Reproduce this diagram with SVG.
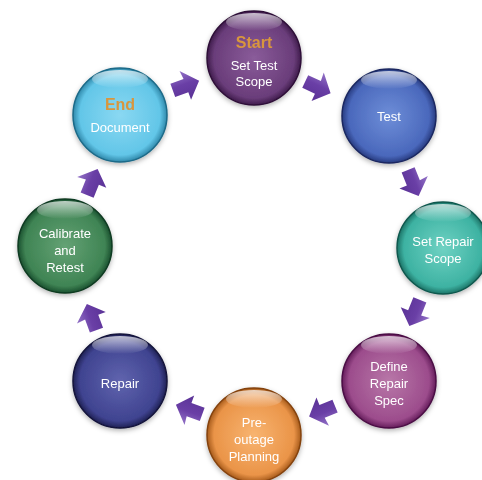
<svg xmlns="http://www.w3.org/2000/svg" width="482" height="480" viewBox="0 0 482 480">
<style>
.lbl{font-family:"Liberation Sans",Arial,sans-serif;font-size:13px;fill:#ffffff;text-anchor:middle}
.hd{font-family:"Liberation Sans",Arial,sans-serif;font-size:16px;font-weight:bold;fill:#d8963e;text-anchor:middle}
.arr{fill:url(#ga)}
.hlt{fill:url(#hl)}
</style>
<defs>
<filter id="sh" x="-30%" y="-30%" width="160%" height="160%"><feGaussianBlur in="SourceAlpha" stdDeviation="2.5"/><feOffset dx="0" dy="2" result="b"/><feFlood flood-color="#000" flood-opacity="0.3"/><feComposite in2="b" operator="in"/><feMerge><feMergeNode/><feMergeNode in="SourceGraphic"/></feMerge></filter>
<linearGradient id="hl" x1="0" y1="0" x2="0" y2="1"><stop offset="0" stop-color="#fff" stop-opacity="0.7"/><stop offset="1" stop-color="#fff" stop-opacity="0"/></linearGradient>
<linearGradient id="ga" x1="0" y1="0" x2="0" y2="1"><stop offset="0" stop-color="#9474c8"/><stop offset="0.45" stop-color="#6a3fa6"/><stop offset="1" stop-color="#5a3296"/></linearGradient>
<radialGradient id="g1" cx="50%" cy="50%" r="52%"><stop offset="0" stop-color="#8a5c9a"/><stop offset="0.82" stop-color="#6a3d7a"/><stop offset="1" stop-color="#341440"/></radialGradient>
<radialGradient id="g2" cx="50%" cy="50%" r="52%"><stop offset="0" stop-color="#6e8ed8"/><stop offset="0.82" stop-color="#4a68bc"/><stop offset="1" stop-color="#1e2f70"/></radialGradient>
<radialGradient id="g3" cx="50%" cy="50%" r="52%"><stop offset="0" stop-color="#6fd2c3"/><stop offset="0.82" stop-color="#3db2a2"/><stop offset="1" stop-color="#146458"/></radialGradient>
<radialGradient id="g4" cx="50%" cy="50%" r="52%"><stop offset="0" stop-color="#b877a8"/><stop offset="0.82" stop-color="#9c4c8c"/><stop offset="1" stop-color="#56104e"/></radialGradient>
<radialGradient id="g5" cx="50%" cy="50%" r="52%"><stop offset="0" stop-color="#f8b470"/><stop offset="0.82" stop-color="#ea9448"/><stop offset="1" stop-color="#964c10"/></radialGradient>
<radialGradient id="g6" cx="50%" cy="50%" r="52%"><stop offset="0" stop-color="#6064ae"/><stop offset="0.82" stop-color="#3f4390"/><stop offset="1" stop-color="#171844"/></radialGradient>
<radialGradient id="g7" cx="50%" cy="50%" r="52%"><stop offset="0" stop-color="#64a274"/><stop offset="0.82" stop-color="#3f8454"/><stop offset="1" stop-color="#124426"/></radialGradient>
<radialGradient id="g8" cx="50%" cy="50%" r="52%"><stop offset="0" stop-color="#8ad8f2"/><stop offset="0.82" stop-color="#62c6e8"/><stop offset="1" stop-color="#22789a"/></radialGradient>
<path id="ar" d="M-13,-7 L1,-7 L0,-16 L15,0 L1,15 L1,7 L-13,7 Z"/>
</defs>
<rect width="482" height="480" fill="#ffffff"/>
<g id="connectors">
<use href="#ar" class="arr" transform="translate(185,86) rotate(-20)"/>
<use href="#ar" class="arr" transform="translate(317,87) rotate(25)"/>
<use href="#ar" class="arr" transform="translate(413,182) rotate(68)"/>
<use href="#ar" class="arr" transform="translate(415,312) rotate(112)"/>
<use href="#ar" class="arr" transform="translate(323,411) rotate(158)"/>
<use href="#ar" class="arr" transform="translate(190,410) rotate(200)"/>
<use href="#ar" class="arr" transform="translate(92,318) rotate(-110)"/>
<use href="#ar" class="arr" transform="translate(92,183) rotate(-68)"/>
</g>
<g id="n-start" filter="url(#sh)">
<circle cx="254" cy="58" r="47" fill="url(#g1)" stroke="#2e1038" stroke-width="1.5"/>
<ellipse cx="254" cy="22" rx="28" ry="9" class="hlt"/>
<text class="hd" x="254" y="48">Start</text>
<text class="lbl" x="254" y="70">Set Test</text>
<text class="lbl" x="254" y="86">Scope</text>
</g>
<g id="n-test" filter="url(#sh)">
<circle cx="389" cy="116" r="47" fill="url(#g2)" stroke="#1a2860" stroke-width="1.5"/>
<ellipse cx="389" cy="80" rx="28" ry="9" class="hlt"/>
<text class="lbl" x="389" y="121">Test</text>
</g>
<g id="n-setrepair" filter="url(#sh)">
<circle cx="443" cy="248" r="46" fill="url(#g3)" stroke="#10584e" stroke-width="1.5"/>
<ellipse cx="443" cy="213" rx="28" ry="9" class="hlt"/>
<text class="lbl" x="443" y="246">Set Repair</text>
<text class="lbl" x="443" y="263">Scope</text>
</g>
<g id="n-define" filter="url(#sh)">
<circle cx="389" cy="381" r="47" fill="url(#g4)" stroke="#4a0c44" stroke-width="1.5"/>
<ellipse cx="389" cy="345" rx="28" ry="9" class="hlt"/>
<text class="lbl" x="389" y="371">Define</text>
<text class="lbl" x="389" y="388">Repair</text>
<text class="lbl" x="389" y="405">Spec</text>
</g>
<g id="n-preoutage" filter="url(#sh)">
<circle cx="254" cy="435" r="47" fill="url(#g5)" stroke="#84420c" stroke-width="1.5"/>
<ellipse cx="254" cy="399" rx="28" ry="9" class="hlt"/>
<text class="lbl" x="254" y="427">Pre-</text>
<text class="lbl" x="254" y="444">outage</text>
<text class="lbl" x="254" y="461">Planning</text>
</g>
<g id="n-repair" filter="url(#sh)">
<circle cx="120" cy="381" r="47" fill="url(#g6)" stroke="#12123a" stroke-width="1.5"/>
<ellipse cx="120" cy="345" rx="28" ry="9" class="hlt"/>
<text class="lbl" x="120" y="388">Repair</text>
</g>
<g id="n-calibrate" filter="url(#sh)">
<circle cx="65" cy="246" r="47" fill="url(#g7)" stroke="#0e3a20" stroke-width="1.5"/>
<ellipse cx="65" cy="210" rx="28" ry="9" class="hlt"/>
<text class="lbl" x="65" y="238">Calibrate</text>
<text class="lbl" x="65" y="255">and</text>
<text class="lbl" x="65" y="272">Retest</text>
</g>
<g id="n-end" filter="url(#sh)">
<circle cx="120" cy="115" r="47" fill="url(#g8)" stroke="#1c6a88" stroke-width="1.5"/>
<ellipse cx="120" cy="79" rx="28" ry="9" class="hlt"/>
<text class="hd" x="120" y="110">End</text>
<text class="lbl" x="120" y="132">Document</text>
</g>
</svg>
